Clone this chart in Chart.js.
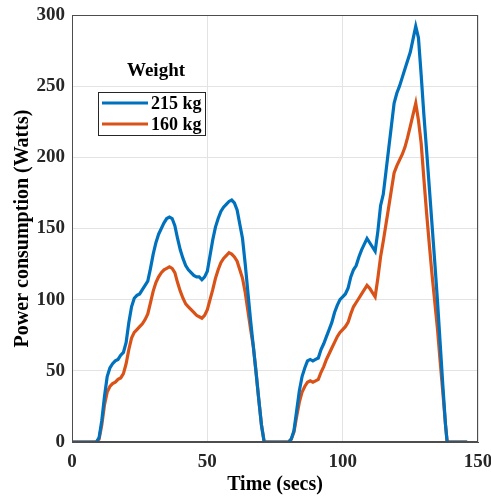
<!DOCTYPE html>
<html>
<head>
<meta charset="utf-8">
<script src="https://cdn.jsdelivr.net/npm/chart.js@4.4.0/dist/chart.umd.min.js"></script>
<style>
  html, body { margin: 0; padding: 0; background: #ffffff; }
  #wrap { width: 491px; height: 497px; }
</style>
</head>
<body>
<div id="wrap"><canvas id="c" width="491" height="497"></canvas></div>
<script>
// ---- Data ----
const seriesLabels = ["215 kg", "160 kg"];
const legendTitle = "Weight";
const xTitle = "Time (secs)";
const yTitle = "Power consumption (Watts)";

const timeHeavy = [0, 9, 10, 11, 12, 13, 14, 15, 16, 17, 18, 19, 20, 21, 22, 23, 24, 25, 26, 27, 28, 29, 30, 31, 32, 33, 34, 35, 36, 37, 38, 39, 40, 41, 42, 43, 44, 45, 46, 47, 48, 49, 50, 51, 52, 53, 54, 55, 56, 57, 58, 59, 60, 61, 62, 63, 64, 65, 66, 67, 68, 69, 70, 71, 80, 81, 82, 83, 84, 85, 86, 87, 88, 89, 90, 91, 92, 93, 94, 95, 96, 97, 98, 99, 100, 101, 102, 103, 104, 105, 106, 107, 108, 109, 110, 111, 112, 113, 114, 115, 116, 117, 118, 119, 120, 121, 122, 123, 124, 125, 126, 127, 128, 129, 130, 131, 132, 133, 134, 135, 136, 137, 138, 138.6, 146];
const powerHeavy = [0, 0, 3, 15, 32, 46, 52, 55, 57, 58, 61, 63, 70, 84, 95, 101, 103, 104, 107, 110, 113, 122, 132, 140, 146, 150, 154, 157, 158, 157, 152, 143, 135, 129, 124, 121, 119, 117, 116, 116, 114, 116, 120, 131, 142, 151, 157, 162, 165, 167, 169, 170, 168, 163, 153, 143, 125, 105, 85, 67, 49, 30, 12, 0, 0, 2, 8, 22, 36, 46, 52, 57, 58, 57, 58, 59, 65, 69, 74, 79, 84, 91, 96, 100, 102, 104, 108, 116, 121, 124, 130, 135, 139, 143, 140, 137, 134, 148, 166, 174, 190, 206, 222, 238, 245, 250, 256, 262, 268, 274, 283, 292, 284, 258, 230, 205, 179, 153, 127, 100, 70, 40, 12, 0, 0];

const timeLight = [0, 9, 10, 11, 12, 13, 14, 15, 16, 17, 18, 19, 20, 21, 22, 23, 24, 25, 26, 27, 28, 29, 30, 31, 32, 33, 34, 35, 36, 37, 38, 39, 40, 41, 42, 43, 44, 45, 46, 47, 48, 49, 50, 51, 52, 53, 54, 55, 56, 57, 58, 59, 60, 61, 62, 63, 64, 65, 66, 67, 68, 69, 70, 71, 80, 81, 82, 83, 84, 85, 86, 87, 88, 89, 90, 91, 92, 93, 94, 95, 96, 97, 98, 99, 100, 101, 102, 103, 104, 105, 106, 107, 108, 109, 110, 111, 112, 113, 114, 115, 116, 117, 118, 119, 120, 121, 122, 123, 124, 125, 126, 127, 128, 129, 130, 131, 132, 133, 134, 135, 136, 137, 138, 138.6, 146];
const powerLight = [0, 0, 2, 12, 26, 35, 39, 41, 42, 44, 45, 48, 55, 65, 73, 77, 79, 81, 83, 86, 90, 98, 106, 112, 116, 119, 121, 122, 123, 122, 119, 112, 106, 101, 97, 95, 93, 91, 89, 88, 87, 89, 93, 100, 107, 115, 121, 126, 129, 131, 133, 132, 130, 127, 121, 115, 105, 92, 79, 67, 49, 30, 12, 0, 0, 2, 7, 18, 28, 35, 39, 42, 43, 42, 43, 44, 49, 53, 58, 62, 66, 70, 74, 77, 79, 81, 84, 90, 95, 98, 101, 104, 107, 110, 108, 105, 102, 115, 130, 141, 153, 165, 177, 189, 194, 198, 202, 207, 214, 222, 230, 238, 226, 210, 185, 161, 139, 118, 99, 80, 57, 35, 12, 0, 0];

const xTicks = [0, 50, 100, 150];
const yTicks = [0, 50, 100, 150, 200, 250, 300];

const colors = ["#0072BD", "#D95319"];
const FONT = "'Liberation Serif', 'Times New Roman', serif";

function toPoints(xs, ys) { return xs.map((x, i) => ({ x: x, y: ys[i] })); }

// Box around plot + in-axes legend (MATLAB style)
const matlabDecor = {
  id: 'matlabDecor',
  afterDatasetsDraw(chart) {
    const ctx = chart.ctx;
    const a = chart.chartArea;
    ctx.save();
    ctx.strokeStyle = '#4d4d4d';
    ctx.lineWidth = 1;
    ctx.strokeRect(a.left + 0.5, a.top + 0.5, a.right - a.left - 1, a.bottom - a.top - 1);

    // legend
    const bx = a.left + 26, by = a.top + 77, bw = 107, bh = 43;
    ctx.fillStyle = '#ffffff';
    ctx.fillRect(bx, by, bw, bh);
    ctx.strokeStyle = '#262626';
    ctx.lineWidth = 1;
    ctx.strokeRect(bx + 0.5, by + 0.5, bw, bh);

    ctx.fillStyle = '#000000';
    ctx.font = "bold 19px " + FONT;
    ctx.textAlign = 'center';
    ctx.textBaseline = 'middle';
    ctx.fillText(legendTitle, bx + 58, by - 21);

    chart.data.datasets.forEach((ds, i) => {
      const yy = by + 11 + i * 21;
      ctx.strokeStyle = ds.borderColor;
      ctx.lineWidth = 3;
      ctx.beginPath();
      ctx.moveTo(bx + 4, yy);
      ctx.lineTo(bx + 50, yy);
      ctx.stroke();
      ctx.fillStyle = '#000000';
      ctx.textAlign = 'left';
      ctx.font = "bold 18px " + FONT;
      ctx.fillText(ds.label, bx + 53, yy + 1);
    });
    ctx.restore();
  }
};

new Chart(document.getElementById('c'), {
  type: 'line',
  data: {
    datasets: [
      { label: seriesLabels[0], data: toPoints(timeHeavy, powerHeavy), borderColor: colors[0], backgroundColor: colors[0], borderWidth: 3.2, pointRadius: 0, tension: 0, fill: false },
      { label: seriesLabels[1], data: toPoints(timeLight, powerLight), borderColor: colors[1], backgroundColor: colors[1], borderWidth: 3.2, pointRadius: 0, tension: 0, fill: false }
    ]
  },
  options: {
    responsive: false,
    animation: false,
    devicePixelRatio: 1,
    layout: { padding: { top: 15, right: 13, left: 0, bottom: 0 } },
    plugins: { legend: { display: false }, tooltip: { enabled: false } },
    scales: {
      x: {
        type: 'linear', min: 0, max: 150,
        afterFit(s) { s.height = 55; s.paddingRight = 0; s.paddingLeft = 0; },
        afterBuildTicks(s) { s.ticks = xTicks.map(v => ({ value: v })); },
        grid: { color: '#e3e3e3', drawTicks: false, lineWidth: 1 },
        border: { display: true, color: '#4d4d4d' },
        ticks: { padding: 9, color: '#262626', font: { family: FONT, size: 19, weight: 'bold' }, maxRotation: 0 },
        title: { display: true, text: xTitle, color: '#000000', padding: { top: 0, bottom: 0 }, font: { family: FONT, size: 20, weight: 'bold' } }
      },
      y: {
        type: 'linear', min: 0, max: 300,
        afterFit(s) { s.width = 72; s.paddingTop = 0; s.paddingBottom = 0; },
        afterBuildTicks(s) { s.ticks = yTicks.map(v => ({ value: v })); },
        grid: { color: '#e3e3e3', drawTicks: false, lineWidth: 1 },
        border: { display: true, color: '#4d4d4d' },
        ticks: { padding: 7, color: '#262626', font: { family: FONT, size: 19, weight: 'bold' } },
        title: { display: true, text: yTitle, color: '#000000', padding: { top: 11, bottom: 0 }, font: { family: FONT, size: 20, weight: 'bold' } }
      }
    }
  },
  plugins: [matlabDecor]
});
</script>
</body>
</html>
